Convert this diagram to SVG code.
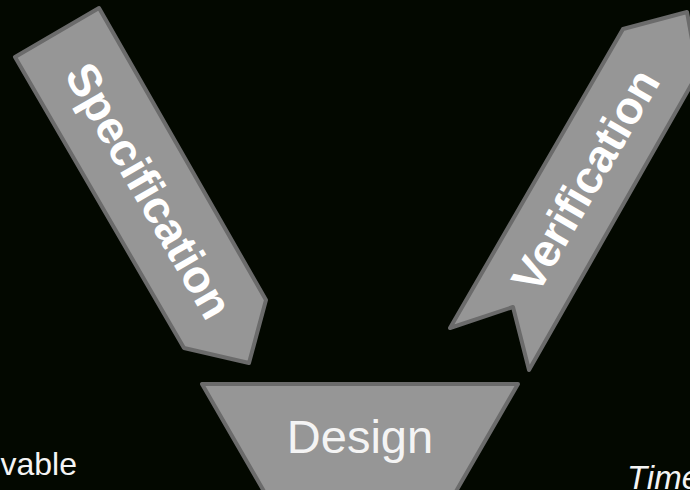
<svg xmlns="http://www.w3.org/2000/svg" width="690" height="490" viewBox="0 0 690 490">
<style>
.shape{fill:#969696;stroke:#6b6b6b;stroke-width:4;stroke-linejoin:round}
.band{font-family:"Liberation Sans",Arial,sans-serif;font-weight:bold;font-size:46px;fill:#ffffff}
.lbl{font-family:"Liberation Sans",Arial,sans-serif;fill:#f4f4f4}
</style>
<rect x="0" y="0" width="690" height="490" fill="#030800"/>
<g id="specification">
<polygon class="shape" points="15,57 99,8 266,300 249,363 184,348"/>
<text class="band" text-anchor="middle" transform="translate(135.3,198.7) rotate(60)">Specification</text>
</g>
<g id="verification">
<polygon class="shape" points="450,328 623,29 687,12 698,73 529,370 513,307"/>
<text class="band" text-anchor="middle" transform="translate(599.2,188.3) rotate(-60)">Verification</text>
</g>
<g id="design">
<polygon class="shape" points="202,384 518,384 451,500 269,500"/>
<text class="lbl" x="360" y="453" font-size="47" text-anchor="middle">Design</text>
</g>
<g id="deliverable">
<text class="lbl" x="77" y="475" font-size="32" text-anchor="end">vable</text>
</g>
<g id="time">
<text class="lbl" x="627" y="489" font-size="33" font-style="italic">Time</text>
</g>
<g id="connectors"/>
</svg>
